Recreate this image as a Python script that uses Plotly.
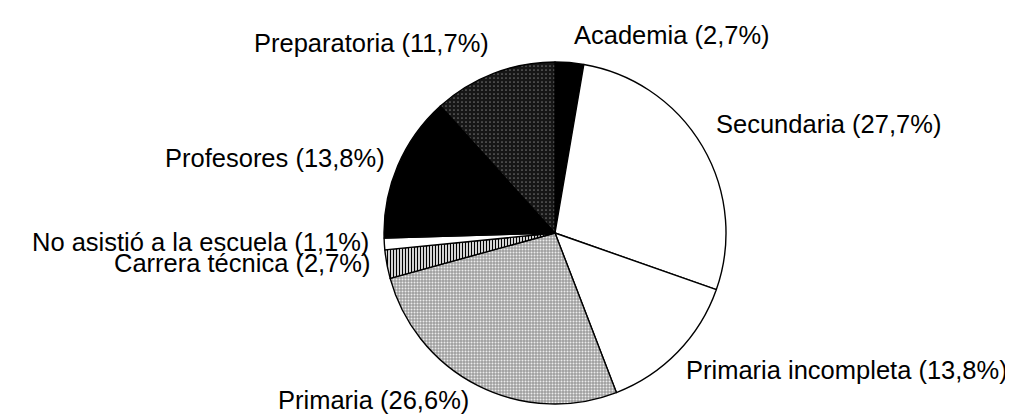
import plotly.graph_objects as go

# Data
categories = ["Academia", "Secundaria", "Primaria incompleta", "Primaria",
              "Carrera técnica", "No asistió a la escuela", "Profesores", "Preparatoria"]
percentages = [2.7, 27.7, 13.8, 26.6, 2.7, 1.1, 13.8, 11.7]

# Styles
fill_colors = ["#000000", "#ffffff", "#ffffff", "#9e9e9e",
               "#ffffff", "#ffffff", "#000000", "#161616"]
pat_shapes = ["", "", "", ".", "|", "", "", "."]
pat_fg = ["#000000", "#000000", "#000000", "#ececec",
          "#000000", "#000000", "#000000", "#6e6e6e"]
pat_size = [4, 4, 4, 3, 3, 4, 4, 4]
pat_sol = [0.3, 0.3, 0.3, 0.35, 0.45, 0.3, 0.3, 0.15]

W, H = 1013, 414
cx, cy, r = 547, 225, 171

fig = go.Figure(go.Pie(
    labels=categories,
    values=percentages,
    sort=False,
    direction="clockwise",
    rotation=0,
    textinfo="none",
    hoverinfo="label+percent",
    showlegend=False,
    marker=dict(
        colors=fill_colors,
        line=dict(color="#000000", width=1.4),
        pattern=dict(shape=pat_shapes, fgcolor=pat_fg, bgcolor=fill_colors,
                     size=pat_size, solidity=pat_sol, fillmode="replace"),
    ),
    domain=dict(x=[(cx - r) / W, (cx + r) / W],
                y=[(H - cy - r) / H, (H - cy + r) / H]),
))

# label placement (pixel positions from top-left), anchor
label_pos = {
    "Academia": (565, 27, "left"),
    "Secundaria": (707, 116, "left"),
    "Primaria incompleta": (677, 362, "left"),
    "Primaria": (269, 392, "left"),
    "Carrera técnica": (364, 255, "right"),
    "No asistió a la escuela": (362, 234, "right"),
    "Profesores": (378, 150, "right"),
    "Preparatoria": (482, 35, "right"),
}

annotations = []
for cat, v in zip(categories, percentages):
    x, y, anc = label_pos[cat]
    txt = f"{cat} ({v:.1f}%)".replace(".", ",")
    annotations.append(dict(
        x=x / W, y=1 - y / H, xref="paper", yref="paper",
        xanchor=anc, yanchor="middle", text=txt, showarrow=False,
        borderpad=0,
        font=dict(family="Liberation Sans, Arial, sans-serif", size=25.5, color="#000000"),
    ))

fig.update_layout(
    width=W, height=H,
    margin=dict(l=0, r=0, t=0, b=0),
    paper_bgcolor="#ffffff",
    plot_bgcolor="#ffffff",
    annotations=annotations,
)

fig.write_html("out.html")
